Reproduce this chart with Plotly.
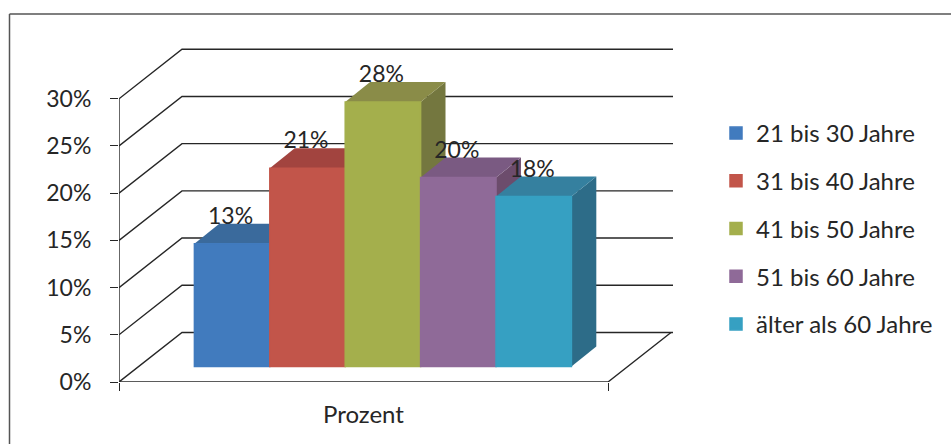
import plotly.graph_objects as go

# Survey result: age groups of respondents
categories = ["21 bis 30 Jahre", "31 bis 40 Jahre", "41 bis 50 Jahre", "51 bis 60 Jahre", "älter als 60 Jahre"]
values = [13, 21, 28, 20, 18]
y_ticks = [0, 5, 10, 15, 20, 25, 30]
axis_title = "Prozent"

front_colors = ["#417BBE", "#C2554A", "#A4AF4C", "#8F6A98", "#36A0C2"]
top_colors = ["#3A6A9C", "#A2443F", "#8A8C48", "#7A5A82", "#35809F"]
side_colors = ["#33597F", "#83383A", "#74773F", "#6C4C6C", "#2D6C88"]

# Oblique projection: depth moves a point right (x units) and up (percent units)
WALL_DX, WALL_DY = 0.8355, 5.25
FLOOR_WIDTH = 6.485
BAR_START = 1.0
BAR_RAISE = 1.65
BAR_DX, BAR_DY = 0.33, 2.12
X_MAX, Y_MAX = 7.347, 35.38
LABEL_LIFT = 2.7
INK = "#262626"
TICK_SIZE = 23
LEGEND_SIZE = 24

fig = go.Figure()

# Back wall grid, left wall diagonals and the floor outline
grid_x, grid_y = [], []
for t in y_ticks:
    grid_x += [0, WALL_DX, X_MAX, None]
    grid_y += [t, t + WALL_DY, t + WALL_DY, None]
fig.add_trace(go.Scatter(x=grid_x, y=grid_y, mode="lines", line=dict(color=INK, width=1.4),
                         hoverinfo="skip", showlegend=False))
frame_x = [0, 0, None, 0, FLOOR_WIDTH, FLOOR_WIDTH + WALL_DX]
frame_y = [0, max(y_ticks), None, 0, 0, WALL_DY]
fig.add_trace(go.Scatter(x=frame_x, y=frame_y, mode="lines", line=dict(color=INK, width=1.4),
                         hoverinfo="skip", showlegend=False, cliponaxis=False))

# Top and side faces go on the lower axes, left to right so each bar overlaps its neighbour
for i, v in enumerate(values):
    x0 = BAR_START + i
    x1 = x0 + 1
    y0 = BAR_RAISE
    y1 = BAR_RAISE + v
    fig.add_trace(go.Scatter(
        x=[x1, x1 + BAR_DX, x1 + BAR_DX, x1, x1],
        y=[y0, y0 + BAR_DY, y1 + BAR_DY, y1, y0],
        mode="lines", fill="toself", fillcolor=side_colors[i], line=dict(width=0),
        hoverinfo="skip", showlegend=False))
    fig.add_trace(go.Scatter(
        x=[x0, x1, x1 + BAR_DX, x0 + BAR_DX, x0],
        y=[y1, y1, y1 + BAR_DY, y1 + BAR_DY, y1],
        mode="lines", fill="toself", fillcolor=top_colors[i], line=dict(width=0),
        hoverinfo="skip", showlegend=False))

# Front faces sit on overlaid axes so they cover the side faces of the bars to their left
for i, (name, v) in enumerate(zip(categories, values)):
    fig.add_trace(go.Bar(
        x=[BAR_START + i + 0.5], y=[v], base=BAR_RAISE, width=1, name=name,
        legendgroup=name, marker=dict(color=front_colors[i], line=dict(color=front_colors[i], width=1.5)),
        xaxis="x2", yaxis="y2"))

fig.add_trace(go.Scatter(
    x=[BAR_START + i + 0.48 for i in range(len(values))],
    y=[BAR_RAISE + v + LABEL_LIFT for v in values],
    text=[f"{v}%" for v in values], mode="text",
    textfont=dict(family="Lato", size=TICK_SIZE, color=INK), textposition="middle center",
    hoverinfo="skip", showlegend=False, cliponaxis=False, xaxis="x2", yaxis="y2"))

fig.update_layout(
    width=951, height=444, autosize=False,
    margin=dict(l=119, r=278, t=48, b=62),
    paper_bgcolor="white", plot_bgcolor="white",
    font=dict(family="Lato", size=TICK_SIZE, color=INK),
    barmode="overlay",
    xaxis=dict(range=[0, X_MAX], showgrid=False, zeroline=False, showline=False,
               tickvals=[0, FLOOR_WIDTH], ticktext=["", ""], ticks="outside",
               ticklen=8, tickwidth=1.4, tickcolor=INK),
    yaxis=dict(range=[0, Y_MAX], showgrid=False, zeroline=False, showline=False,
               tickvals=y_ticks, ticktext=[f"{t}%" for t in y_ticks], ticks="outside",
               ticklen=8, tickwidth=1.4, tickcolor=INK, ticklabelstandoff=14,
               tickfont=dict(family="Lato", size=TICK_SIZE, color=INK)),
    xaxis2=dict(range=[0, X_MAX], overlaying="x", visible=False),
    yaxis2=dict(range=[0, Y_MAX], overlaying="y", visible=False),
    legend=dict(x=(716 - 119) / 554, xanchor="left", y=1 - (111 - 48) / 334, yanchor="top",
                font=dict(family="Lato", size=LEGEND_SIZE, color=INK), tracegroupgap=13.5,
                bgcolor="rgba(0,0,0,0)", borderwidth=0),
    annotations=[dict(text=axis_title, xref="x", yref="paper", x=FLOOR_WIDTH / 2, y=0,
                      yanchor="middle", yshift=-31, showarrow=False,
                      font=dict(family="Lato", size=LEGEND_SIZE, color=INK))],
    shapes=[dict(type="line", xref="paper", yref="paper",
                 x0=(9.5 - 119) / 554, x1=(951 - 119) / 554, y0=1 + 34 / 334, y1=1 + 34 / 334,
                 line=dict(color="#555555", width=1.5)),
            dict(type="line", xref="paper", yref="paper",
                 x0=(9.5 - 119) / 554, x1=(9.5 - 119) / 554, y0=1 + 34 / 334, y1=-62 / 334,
                 line=dict(color="#555555", width=1.5))],
)

fig.write_html("out.html")
